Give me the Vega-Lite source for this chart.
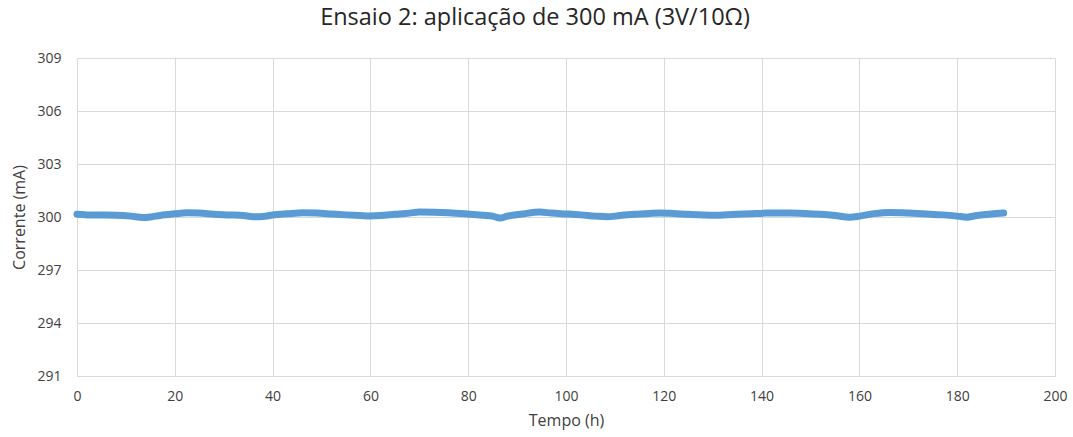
{
  "$schema": "https://vega.github.io/schema/vega-lite/v6.json",
  "width": 978,
  "height": 318,
  "autosize": {"type": "none"},
  "padding": {"left": 77, "top": 58, "right": 18, "bottom": 61},
  "background": "white",
  "title": {
    "text": "Ensaio 2: aplicação de 300 mA (3V/10Ω)",
    "font": "Open Sans",
    "fontSize": 23.5,
    "fontWeight": "normal",
    "color": "#262626",
    "anchor": "middle",
    "dx": -31,
    "offset": 22
  },
  "config": {
    "view": {"stroke": null},
    "axis": {
      "labelFont": "Open Sans",
      "labelFontSize": 14,
      "labelColor": "#404040",
      "titleFont": "Open Sans",
      "titleFontSize": 16,
      "titleFontWeight": "normal",
      "titleColor": "#404040",
      "gridColor": "#d9d9d9",
      "gridWidth": 1,
      "ticks": false,
      "labelFlush": false
    }
  },
  "data": {
    "values": [
      {"h": 0, "mA": 300.15}, {"h": 2, "mA": 300.12}, {"h": 5, "mA": 300.11}, {"h": 8, "mA": 300.1},
      {"h": 11, "mA": 300.05}, {"h": 13.5, "mA": 299.97}, {"h": 15, "mA": 300.0}, {"h": 17, "mA": 300.09},
      {"h": 20, "mA": 300.18}, {"h": 22.5, "mA": 300.24}, {"h": 25, "mA": 300.22}, {"h": 28, "mA": 300.16},
      {"h": 31, "mA": 300.12}, {"h": 34, "mA": 300.08}, {"h": 36.8, "mA": 300.01}, {"h": 38, "mA": 300.03},
      {"h": 40, "mA": 300.11}, {"h": 43, "mA": 300.18}, {"h": 46.2, "mA": 300.24}, {"h": 49, "mA": 300.22},
      {"h": 52, "mA": 300.17}, {"h": 55, "mA": 300.12}, {"h": 58, "mA": 300.08}, {"h": 60, "mA": 300.06},
      {"h": 62, "mA": 300.08}, {"h": 65, "mA": 300.15}, {"h": 68, "mA": 300.22}, {"h": 70, "mA": 300.28},
      {"h": 73, "mA": 300.27}, {"h": 76, "mA": 300.24}, {"h": 79.8, "mA": 300.17}, {"h": 83, "mA": 300.1},
      {"h": 85, "mA": 300.05}, {"h": 86.5, "mA": 299.94}, {"h": 88, "mA": 300.05}, {"h": 91, "mA": 300.17},
      {"h": 94.7, "mA": 300.28}, {"h": 97, "mA": 300.22}, {"h": 100.2, "mA": 300.17}, {"h": 103, "mA": 300.12},
      {"h": 106, "mA": 300.05}, {"h": 108.4, "mA": 300.01}, {"h": 111, "mA": 300.08}, {"h": 114, "mA": 300.15},
      {"h": 117, "mA": 300.2}, {"h": 119.2, "mA": 300.23}, {"h": 122, "mA": 300.2}, {"h": 125, "mA": 300.15},
      {"h": 128, "mA": 300.12}, {"h": 131.5, "mA": 300.1}, {"h": 134, "mA": 300.14}, {"h": 137.6, "mA": 300.18},
      {"h": 141, "mA": 300.22}, {"h": 145.8, "mA": 300.23}, {"h": 149, "mA": 300.2}, {"h": 152, "mA": 300.15},
      {"h": 155, "mA": 300.08}, {"h": 158, "mA": 299.99}, {"h": 160, "mA": 300.05}, {"h": 163, "mA": 300.19},
      {"h": 166.3, "mA": 300.26}, {"h": 170, "mA": 300.22}, {"h": 173.8, "mA": 300.17}, {"h": 177, "mA": 300.12},
      {"h": 180, "mA": 300.05}, {"h": 182, "mA": 299.99}, {"h": 184, "mA": 300.08}, {"h": 187, "mA": 300.17},
      {"h": 189.5, "mA": 300.22}
    ]
  },
  "mark": {"type": "line", "color": "#5b9bd5", "strokeWidth": 7, "strokeCap": "round", "strokeJoin": "round", "interpolate": "monotone"},
  "encoding": {
    "x": {
      "field": "h",
      "type": "quantitative",
      "scale": {"domain": [0, 200], "nice": false},
      "axis": {
        "title": "Tempo (h)",
        "values": [0, 20, 40, 60, 80, 100, 120, 140, 160, 180, 200],
        "domainColor": "#d9d9d9",
        "labelPadding": 13,
        "titlePadding": 9
      }
    },
    "y": {
      "field": "mA",
      "type": "quantitative",
      "scale": {"domain": [291, 309], "nice": false, "zero": false},
      "axis": {
        "title": "Corrente (mA)",
        "values": [291, 294, 297, 300, 303, 306, 309],
        "domain": false,
        "labelPadding": 16,
        "titlePadding": 9
      }
    }
  }
}
